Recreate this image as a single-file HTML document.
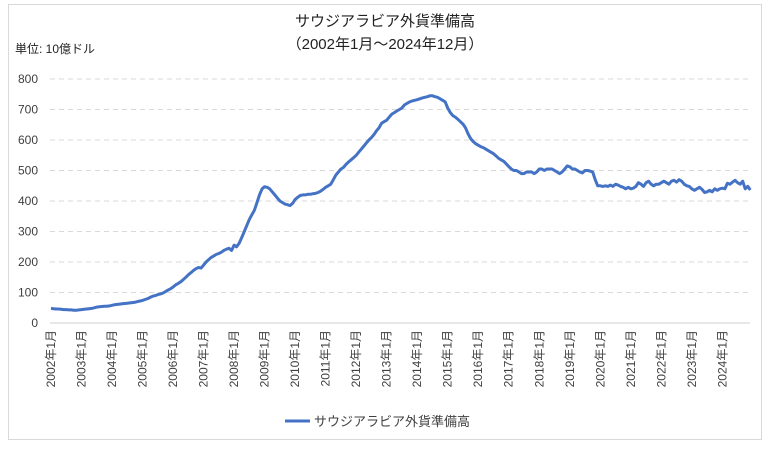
<!DOCTYPE html>
<html><head><meta charset="utf-8"><style>
body{margin:0;background:#fff;}
svg text{font-family:"Liberation Sans","Noto Sans CJK JP",sans-serif;fill:#404040;}
</style></head><body>
<svg id="chart" width="770" height="449" xmlns="http://www.w3.org/2000/svg">
<rect x="8.5" y="4.5" width="753" height="435" fill="#fff" stroke="#d9d9d9"/>
<text x="385" y="26" text-anchor="middle" font-size="15" style="fill:#222">サウジアラビア外貨準備高</text>
<text x="385" y="49" text-anchor="middle" font-size="15" style="fill:#222">（2002年1月～2024年12月）</text>
<text x="15" y="53" font-size="12" style="fill:#222">単位: 10億ドル</text>
<g id="grid"></g><g id="yt"></g><g id="xt"></g>
<polyline id="line" fill="none" stroke="#4472c4" stroke-width="3" stroke-linejoin="round"/>
<line x1="285" y1="421" x2="310" y2="421" stroke="#4472c4" stroke-width="3"/>
<text x="314" y="426" font-size="13">サウジアラビア外貨準備高</text>
</svg>
<script>
const yTicks=[0,100,200,300,400,500,600,700,800];
const years=[2002,2003,2004,2005,2006,2007,2008,2009,2010,2011,2012,2013,2014,2015,2016,2017,2018,2019,2020,2021,2022,2023,2024];
const values=[
48,47,46,46,45,44,44,43,43,42,42,43,
44,45,46,47,48,50,52,53,54,55,55,56,
58,60,61,62,63,64,65,66,67,68,70,72,
74,77,80,84,88,90,93,95,98,103,108,112,
118,125,130,135,142,150,158,165,172,178,182,180,
190,200,208,215,220,225,228,232,238,242,245,238,
255,250,262,280,300,320,340,355,370,395,420,440,
447,445,440,430,420,410,400,395,390,388,385,392,
405,412,418,420,420,422,422,424,425,428,432,438,
445,450,455,470,485,495,505,510,520,528,535,542,
550,560,570,580,590,600,608,618,630,640,655,660,
665,675,685,690,695,700,705,715,720,725,728,730,
732,735,738,740,742,745,745,742,740,735,730,725,
705,690,680,675,668,660,652,640,620,605,595,588,
583,578,575,570,565,560,555,548,540,535,530,522,
513,505,500,500,495,490,490,495,495,495,490,495,
505,505,500,505,505,505,500,495,490,495,505,515,
512,505,505,500,495,492,500,500,498,495,470,450,
450,448,450,448,452,448,455,452,448,445,440,445,
440,442,448,460,455,448,460,465,455,450,455,455,
460,465,460,455,465,468,462,470,465,455,450,448,
440,435,440,445,438,428,430,435,430,440,435,440,
442,440,458,455,462,468,460,455,465,440,448,436];
const NS="http://www.w3.org/2000/svg";
const x0=51,dx=2.543,yb=323,ys=244/800;
const X=i=>x0+i*dx, Y=v=>yb-v*ys;
const grid=document.getElementById('grid'),yt=document.getElementById('yt'),xt=document.getElementById('xt');
yTicks.forEach(t=>{
 const l=document.createElementNS(NS,'line');
 
 
 l.setAttribute('x1',50);l.setAttribute('x2',750);l.setAttribute('y1',Y(t));l.setAttribute('y2',Y(t));
 l.setAttribute('stroke',t===0?'#d0d0d0':'#d9d9d9');
 if(t!==0)l.setAttribute('stroke-dasharray','5,4');
 grid.appendChild(l);
 const tx=document.createElementNS(NS,'text');
 
 
 tx.setAttribute('x',38);tx.setAttribute('y',Y(t)+4);tx.setAttribute('text-anchor','end');tx.setAttribute('font-size','12');
 tx.textContent=t;yt.appendChild(tx);
});
years.forEach((yr,k)=>{
 const x=X(k*12)+4;
 const tx=document.createElementNS(NS,'text');
 
 
 tx.setAttribute('transform','translate('+x+',330) rotate(-90)');
 tx.setAttribute('text-anchor','end');tx.setAttribute('font-size','12');
 tx.textContent=yr+'年1月';xt.appendChild(tx);
});
document.getElementById('line').setAttribute('points',values.map((v,i)=>X(i).toFixed(1)+','+Y(v).toFixed(1)).join(' '));
</script>
</body></html>
